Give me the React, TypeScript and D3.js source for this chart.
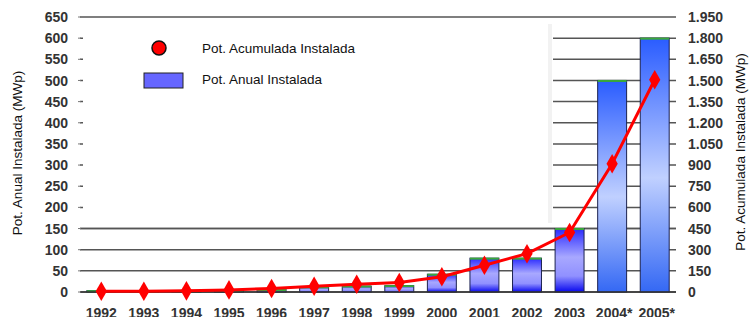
import { useEffect, useRef } from 'react';
import * as d3 from 'd3';

// años y valores
const years = ['1992', '1993', '1994', '1995', '1996', '1997', '1998', '1999', '2000', '2001', '2002', '2003', '2004*', '2005*'];
const annual = [3, 2, 3, 4, 6, 12, 14, 15, 42, 80, 80, 150, 500, 600];
const cumulative = [5, 6, 8, 15, 25, 40, 55, 68, 108, 190, 272, 422, 910, 1505];
const leftTicks = [0, 50, 100, 150, 200, 250, 300, 350, 400, 450, 500, 550, 600, 650];
const rightTicks = [0, 150, 300, 450, 600, 750, 900, 1050, 1200, 1350, 1500, 1650, 1800, 1950];

const App = () => {
    const ref = useRef<SVGSVGElement>(null);

    useEffect(() => {
        const svg = d3.select(ref.current);
        svg.selectAll('*').remove();

        const width = 749;
        const height = 317;
        const left = 80, right = 676, top = 17, bottom = 292;

        const x = d3.scaleBand().domain(years).range([left, right]).paddingInner(0.32).paddingOuter(0.16);
        const yL = d3.scaleLinear().domain([0, 650]).range([bottom, top]);
        const yR = d3.scaleLinear().domain([0, 1950]).range([bottom, top]);
        const fmt = d3.formatLocale({ decimal: ',', thousands: '.', grouping: [3], currency: ['', ''] }).format(',d');

        svg.attr('width', width).attr('height', height)
            .style('font-family', 'Liberation Sans, Arial, sans-serif');

        const defs = svg.append('defs');
        const grad = (id, stops) => {
            const g = defs.append('linearGradient').attr('id', id)
                .attr('x1', 0).attr('y1', 0).attr('x2', 0).attr('y2', 1);
            stops.forEach(([o, c]) => g.append('stop').attr('offset', o).attr('stop-color', c));
        };
        grad('early', [[0, '#2a2aff'], [0.45, '#a8a8ff'], [0.75, '#9090ff'], [1, '#0808ee']]);
        grad('late', [[0, '#2a5cff'], [0.55, '#c0d0ff'], [1, '#3468f4']]);

        // grid
        svg.append('g').selectAll('line').data(leftTicks).join('line')
            .attr('x1', left).attr('x2', right)
            .attr('y1', d => yL(d)).attr('y2', d => yL(d))
            .attr('stroke', '#555').attr('stroke-width', 1.5);

        // caja blanca de la leyenda que tapa la rejilla
        svg.append('rect').attr('x', left + 3).attr('y', 24).attr('width', 470).attr('height', 199).attr('fill', '#fff');
        svg.append('rect').attr('x', 548).attr('y', 24).attr('width', 4).attr('height', 199).attr('fill', '#f2f2f2');
        svg.append('line').attr('x1', left).attr('x2', right).attr('y1', yL(150)).attr('y2', yL(150))
            .attr('stroke', '#555').attr('stroke-width', 1.5);

        // bars
        const bars = svg.append('g');
        bars.selectAll('rect').data(years).join('rect')
            .attr('x', d => x(d))
            .attr('width', x.bandwidth())
            .attr('y', (d, i) => yL(annual[i]))
            .attr('height', (d, i) => bottom - yL(annual[i]))
            .attr('fill', (d, i) => i >= 12 ? 'url(#late)' : 'url(#early)')
            .attr('stroke', '#1c2250').attr('stroke-width', 1);
        bars.selectAll('line').data(years).join('line')
            .attr('x1', d => x(d)).attr('x2', d => x(d) + x.bandwidth())
            .attr('y1', (d, i) => yL(annual[i]) + 0.5).attr('y2', (d, i) => yL(annual[i]) + 0.5)
            .attr('stroke', '#3aa83a').attr('stroke-width', 2);

        // baseline
        svg.append('line').attr('x1', left).attr('x2', right).attr('y1', bottom).attr('y2', bottom)
            .attr('stroke', '#333').attr('stroke-width', 1.5);

        // cumulative line
        const cx = d => x(d) + x.bandwidth() / 2;
        const line = d3.line<number>().x((d, i) => cx(years[i])).y(d => yR(d));
        svg.append('path').datum(cumulative).attr('d', line)
            .attr('fill', 'none').attr('stroke', '#ff0000').attr('stroke-width', 3).attr('stroke-linejoin', 'round');
        svg.append('g').selectAll('path').data(cumulative).join('path')
            .attr('d', d3.symbol().type(d3.symbolDiamond).size(110))
            .attr('transform', (d, i) => `translate(${cx(years[i])},${yR(d)})`)
            .attr('fill', '#ff0000');

        // left axis
        const la = svg.append('g').attr('font-size', 14).attr('font-weight', 'bold').attr('fill', '#333');
        la.selectAll('text').data(leftTicks).join('text')
            .attr('x', 68).attr('y', d => yL(d)).attr('dy', '0.36em')
            .attr('text-anchor', 'end').text(d => d);
        la.selectAll('line').data(leftTicks).join('line')
            .attr('x1', 78).attr('x2', 81).attr('y1', d => yL(d)).attr('y2', d => yL(d))
            .attr('stroke', '#777');

        // right axis
        svg.append('g').attr('font-size', 14).attr('font-weight', 'bold').attr('fill', '#333')
            .selectAll('text').data(rightTicks).join('text')
            .attr('x', 688).attr('y', d => yR(d)).attr('dy', '0.36em')
            .text(d => fmt(d));

        // x labels
        svg.append('g').attr('font-size', 14).attr('font-weight', 'bold').attr('fill', '#333')
            .selectAll('text').data(years).join('text')
            .attr('x', d => cx(d) + (d.endsWith('*') ? 2 : 0)).attr('y', 318)
            .attr('text-anchor', 'middle').text(d => d);

        // axis titles
        svg.append('text').attr('transform', 'translate(22,153) rotate(-90)')
            .attr('text-anchor', 'middle').attr('font-size', 13.5).attr('fill', '#111')
            .text('Pot. Anual Instalada (MWp)');
        svg.append('text').attr('transform', 'translate(745,152) rotate(-90)')
            .attr('text-anchor', 'middle').attr('font-size', 13.5).attr('fill', '#111')
            .text('Pot. Acumulada Instalada (MWp)');

        // legend
        const lg = svg.append('g').attr('font-size', 13.5).attr('fill', '#111');
        lg.append('circle').attr('cx', 159).attr('cy', 48).attr('r', 7)
            .attr('fill', '#ff0000').attr('stroke', '#111').attr('stroke-width', 1.5);
        lg.append('text').attr('x', 202).attr('y', 48).attr('dy', '0.35em').text('Pot. Acumulada Instalada');
        lg.append('rect').attr('x', 144).attr('y', 73).attr('width', 39).attr('height', 15)
            .attr('fill', '#6666ff').attr('stroke', '#222').attr('stroke-width', 1);
        lg.append('text').attr('x', 202).attr('y', 79).attr('dy', '0.35em').text('Pot. Anual Instalada');
    }, []);

    return <svg ref={ref} width={749} height={317} style={{ position: 'absolute', left: 0, top: 0 }} />;
};

export default App;
